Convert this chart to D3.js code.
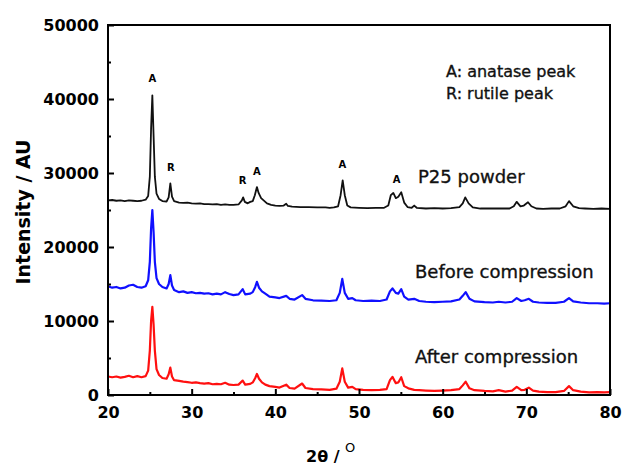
<!DOCTYPE html>
<html>
<head>
<meta charset="utf-8">
<script src="https://cdn.jsdelivr.net/npm/d3@7"></script>
<style>
  body { margin: 0; background: #fff; }
  svg { display: block; font-family: "DejaVu Sans", sans-serif; }
</style>
</head>
<body>
<div id="chart"></div>
<script>
const width = 622, height = 468;
const margin = { top: 25, right: 12, bottom: 73, left: 108 };

// tick labels
const xMajor = [20, 30, 40, 50, 60, 70, 80];
const xMinor = [25, 35, 45, 55, 65, 75];
const yMajor = [0, 10000, 20000, 30000, 40000, 50000];
const yMinor = [5000, 15000, 25000, 35000, 45000];

// series: [2theta, intensity]
const p25 = [
  [20, 26300], [20.5, 26350], [21, 26250], [21.5, 26300], [22, 26200], [22.5, 26300], [23, 26250],
  [23.5, 26200], [24, 26250], [24.5, 26400], [24.8, 26900], [25.0, 29500], [25.15, 36000], [25.3, 40500],
  [25.45, 35000], [25.6, 29500], [25.8, 27200], [26.1, 26500], [26.5, 26200], [27.0, 26150], [27.25, 26700],
  [27.45, 28600], [27.65, 26800], [27.9, 26200], [28.5, 26000], [29, 25950], [29.5, 26000], [30, 25900],
  [30.5, 25850], [31, 25900], [31.5, 25800], [32, 25800], [32.5, 25750], [33, 25800], [33.5, 25700],
  [34, 25750], [34.5, 25700], [35, 25700], [35.6, 25750], [36.0, 26300], [36.15, 26700], [36.35, 26100],
  [36.7, 25900], [37.0, 26100], [37.3, 26200], [37.55, 27000], [37.8, 28100], [38.0, 27300], [38.3, 26600],
  [38.6, 26300], [39, 25900], [39.5, 25700], [40, 25600], [40.5, 25550], [41.0, 25600], [41.3, 25850],
  [41.5, 25550], [42, 25450], [43, 25400], [44, 25400], [45, 25350], [46, 25350], [46.5, 25300],
  [47.0, 25350], [47.5, 25500], [47.8, 27000], [48.05, 29000], [48.3, 27000], [48.6, 25600], [49, 25350],
  [50, 25300], [51, 25250], [52, 25300], [53, 25300], [53.5, 25600], [53.8, 27000], [54.1, 27300],
  [54.4, 26600], [54.7, 26800], [55.05, 27400], [55.4, 26000], [55.8, 25400], [56.3, 25300], [56.6, 25600],
  [56.9, 25300], [58, 25200], [59, 25250], [60, 25200], [61, 25250], [62, 25400], [62.4, 25900],
  [62.7, 26700], [63.1, 25900], [63.6, 25350], [64.5, 25200], [66, 25200], [67, 25200], [68, 25200],
  [68.5, 25500], [68.85, 26100], [69.3, 25500], [69.7, 25600], [70.2, 26050], [70.6, 25500], [71.2, 25200],
  [72, 25150], [73, 25200], [74, 25200], [74.7, 25500], [75.1, 26200], [75.6, 25500], [76.3, 25250],
  [77, 25200], [78, 25150], [79, 25200], [80, 25150]
];

const before = [
  [20, 14700], [20.5, 14500], [21, 14600], [21.5, 14400], [22, 14500], [22.5, 14800], [23, 14900],
  [23.5, 14600], [24, 14500], [24.5, 14700], [24.8, 15500], [25.0, 18000], [25.15, 22500], [25.3, 25000],
  [25.45, 22000], [25.6, 18000], [25.8, 15800], [26.1, 15000], [26.5, 14600], [27.0, 14400], [27.25, 15000],
  [27.45, 16200], [27.65, 14800], [27.9, 14200], [28.5, 13900], [29, 14000], [29.5, 13800], [30, 13900],
  [30.5, 13750], [31, 13800], [31.5, 13700], [32, 13750], [32.5, 13600], [33, 13700], [33.5, 13600],
  [34, 13900], [34.5, 13650], [35, 13500], [35.6, 13600], [36.1, 14300], [36.4, 13600], [37, 13700],
  [37.3, 13900], [37.6, 14600], [37.8, 15300], [38.05, 14500], [38.4, 14000], [38.8, 13700], [39.3, 13300],
  [40, 13200], [40.5, 13100], [41.3, 13400], [41.7, 13000], [42.3, 12900], [43.2, 13500], [43.6, 13000],
  [44.5, 12800], [45.5, 12750], [46.5, 12700], [47.3, 12800], [47.7, 13800], [48.0, 15700], [48.3, 13800],
  [48.7, 13000], [49.2, 13100], [49.6, 12800], [50.5, 12700], [51.5, 12750], [52.5, 12700], [53.3, 12900],
  [53.7, 14000], [54.0, 14400], [54.4, 13800], [54.7, 13700], [55.05, 14300], [55.4, 13300], [55.9, 12900],
  [56.6, 13000], [57.2, 12700], [58, 12600], [59, 12550], [60, 12600], [61, 12650], [62, 12900],
  [62.4, 13400], [62.75, 13900], [63.2, 13000], [63.8, 12650], [65, 12550], [66, 12500], [66.7, 12600],
  [67.5, 12500], [68.3, 12600], [68.85, 13100], [69.4, 12700], [69.8, 12800], [70.3, 13000], [70.8, 12600],
  [71.5, 12500], [72.5, 12450], [73.5, 12450], [74.5, 12600], [75.1, 13100], [75.6, 12650], [76.5, 12500],
  [77.5, 12400], [78.5, 12400], [79.3, 12350], [80, 12400]
];

const after = [
  [20, 2500], [20.5, 2400], [21, 2500], [21.5, 2350], [22, 2450], [22.5, 2600], [23, 2400],
  [23.5, 2550], [24, 2400], [24.5, 2550], [24.8, 3300], [25.0, 6000], [25.15, 10000], [25.3, 11900],
  [25.45, 9500], [25.6, 6000], [25.8, 3500], [26.1, 2700], [26.5, 2300], [27.0, 2200], [27.25, 2800],
  [27.45, 3700], [27.65, 2500], [27.9, 2000], [28.5, 1900], [29, 1800], [29.5, 1750], [30, 1650],
  [30.5, 1700], [31, 1600], [31.5, 1550], [32, 1600], [32.5, 1450], [33, 1500], [33.5, 1450],
  [34, 1650], [34.5, 1400], [35, 1350], [35.6, 1400], [36.1, 1950], [36.4, 1400], [37, 1500],
  [37.3, 1700], [37.6, 2300], [37.8, 2850], [38.05, 2200], [38.4, 1700], [38.8, 1400], [39.3, 1200],
  [40, 1100], [40.5, 1000], [41.3, 1400], [41.7, 950], [42.3, 850], [43.2, 1550], [43.6, 950],
  [44.5, 800], [45.5, 750], [46.5, 700], [47.3, 850], [47.7, 1800], [48.0, 3600], [48.3, 1800],
  [48.7, 1000], [49.2, 1100], [49.6, 800], [50.5, 700], [51.5, 650], [52.5, 700], [53.3, 800],
  [53.7, 2000], [54.0, 2450], [54.4, 1600], [54.7, 1700], [55.05, 2400], [55.4, 1200], [55.9, 900],
  [56.6, 700], [57.2, 650], [58, 600], [59, 550], [60, 600], [61, 650], [62, 800],
  [62.4, 1300], [62.75, 1800], [63.2, 900], [63.8, 650], [65, 550], [66, 500], [66.7, 650],
  [67.5, 450], [68.3, 600], [68.85, 1100], [69.4, 650], [69.8, 700], [70.3, 1000], [70.8, 600],
  [71.5, 450], [72.5, 400], [73.5, 400], [74.5, 550], [75.1, 1200], [75.6, 650], [76.5, 450],
  [77.5, 350], [78.5, 400], [79.3, 350], [80, 400]
];

// peak markers over the P25 curve: [2theta, intensity of label, letter]
const peakLabels = [
  [25.3, 42300, "A"], [27.5, 30300, "R"], [36.1, 28500, "R"],
  [37.8, 29700, "A"], [48.0, 30700, "A"], [54.5, 28700, "A"]
];

const svg = d3.select("#chart").append("svg")
  .attr("width", width)
  .attr("height", height);

const innerWidth = width - margin.left - margin.right;
const innerHeight = height - margin.top - margin.bottom;

const g = svg.append("g").attr("transform", `translate(${margin.left},${margin.top})`);

const x = d3.scaleLinear().domain([20, 80]).range([0, innerWidth]);
const y = d3.scaleLinear().domain([0, 50000]).range([innerHeight, 0]);

const line = d3.line()
  .x(d => x(d[0]))
  .y(d => y(d[1]));

g.append("path").datum(after)
  .attr("fill", "none").attr("stroke", "#ff1010").attr("stroke-width", 2.2)
  .attr("stroke-linejoin", "round").attr("d", line);

g.append("path").datum(before)
  .attr("fill", "none").attr("stroke", "#1010ff").attr("stroke-width", 2.2)
  .attr("stroke-linejoin", "round").attr("d", line);

g.append("path").datum(p25)
  .attr("fill", "none").attr("stroke", "#111").attr("stroke-width", 1.8)
  .attr("stroke-linejoin", "round").attr("d", line);

// axes, ticks point inward
const xAxis = g.append("g")
  .attr("transform", `translate(0,${innerHeight})`)
  .call(d3.axisBottom(x).tickValues(xMajor).tickSize(-6).tickPadding(12).tickFormat(d3.format("d")));
const xAxisMinor = g.append("g")
  .attr("transform", `translate(0,${innerHeight})`)
  .call(d3.axisBottom(x).tickValues(xMinor).tickSize(-3));
const yAxis = g.append("g")
  .call(d3.axisLeft(y).tickValues(yMajor).tickSize(-6).tickPadding(9).tickFormat(d3.format("d")));
const yAxisMinor = g.append("g")
  .call(d3.axisLeft(y).tickValues(yMinor).tickSize(-3));

// minor ticks carry no labels
xAxisMinor.selectAll(".tick text").remove();
yAxisMinor.selectAll(".tick text").remove();

[xAxis, xAxisMinor, yAxis, yAxisMinor].forEach(a => {
  a.select(".domain").remove();
  a.selectAll(".tick line").attr("stroke", "#000").attr("stroke-width", 2);
  a.selectAll(".tick text")
    .attr("fill", "#000")
    .attr("font-family", "DejaVu Sans")
    .attr("font-weight", "bold")
    .attr("font-size", "16px");
});

g.append("rect")
  .attr("width", innerWidth).attr("height", innerHeight)
  .attr("fill", "none").attr("stroke", "#000").attr("stroke-width", 2);

// peak letters
g.selectAll(".peak").data(peakLabels).enter().append("text")
  .attr("class", "peak")
  .attr("x", d => x(d[0]))
  .attr("y", d => y(d[1]))
  .attr("text-anchor", "middle")
  .attr("font-size", "10px")
  .attr("font-weight", "bold")
  .text(d => d[2]);

// annotations
const notes = g.append("g")
  .attr("fill", "#111").attr("stroke", "#111").attr("stroke-width", 0.35);
notes.append("text").attr("x", 338).attr("y", 52).attr("font-size", "16px").text("A: anatase peak");
notes.append("text").attr("x", 338).attr("y", 74).attr("font-size", "16px").text("R: rutile peak");
notes.append("text").attr("x", 310).attr("y", 158).attr("font-size", "18px").text("P25 powder");
notes.append("text").attr("x", 307).attr("y", 253).attr("font-size", "18px").text("Before compression");
notes.append("text").attr("x", 307).attr("y", 338).attr("font-size", "18px").text("After compression");

// axis titles
const xt = svg.append("text")
  .attr("x", 306).attr("y", 462)
  .attr("font-size", "16px").attr("font-weight", "bold");
xt.append("tspan").text("2θ / ");
xt.append("tspan").attr("dy", -10).attr("font-size", "13px").attr("font-weight", "normal").text("O");

svg.append("text")
  .attr("transform", `translate(30, ${margin.top + innerHeight / 2 + 2}) rotate(-90)`)
  .attr("text-anchor", "middle")
  .attr("font-size", "19px")
  .attr("font-weight", "bold")
  .text("Intensity / AU");
</script>
</body>
</html>
